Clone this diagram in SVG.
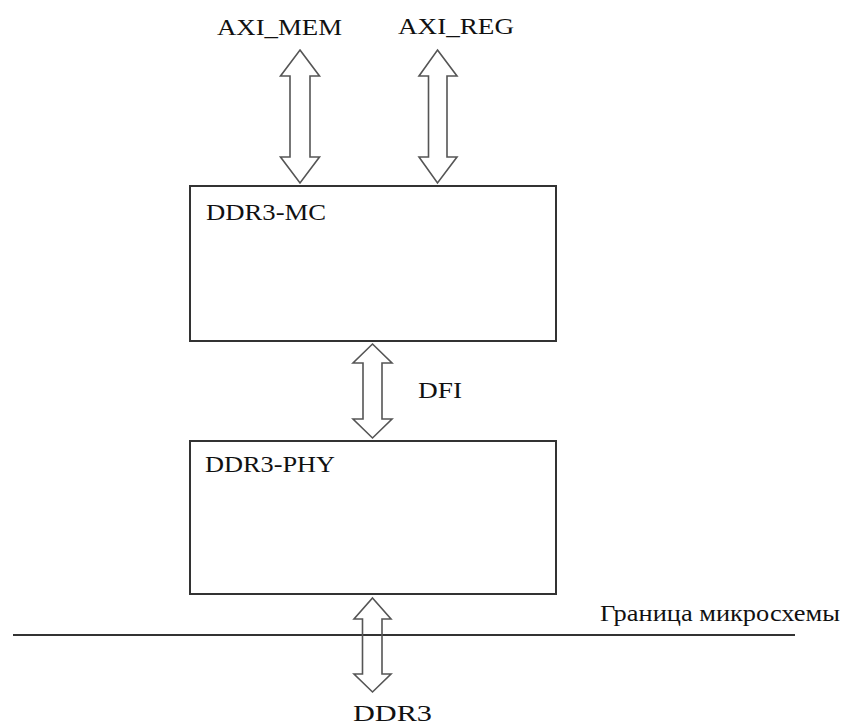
<svg xmlns="http://www.w3.org/2000/svg" width="844" height="727" viewBox="0 0 844 727">
<style>
.box{fill:#fff;stroke:#333;stroke-width:2}
.arr{fill:#fff;stroke:#555;stroke-width:1.6;stroke-linejoin:miter}
.bound{stroke:#333;stroke-width:2;fill:none}
.t{font-family:'Liberation Serif','Times New Roman','DejaVu Serif',serif;font-size:24px;fill:#111}
</style>
<rect width="844" height="727" fill="#fff"/>
<g id="mc">
<rect class="box" x="190" y="186" width="366" height="155"/>
<text class="t" x="206" y="220" textLength="120" lengthAdjust="spacingAndGlyphs">DDR3-MC</text>
</g>
<g id="phy">
<rect class="box" x="190" y="441" width="366" height="153"/>
<text class="t" x="205" y="472" textLength="130" lengthAdjust="spacingAndGlyphs">DDR3-PHY</text>
</g>
<g id="axi_mem">
<text class="t" x="217" y="35" textLength="125" lengthAdjust="spacingAndGlyphs">AXI_MEM</text>
</g>
<g id="axi_reg">
<text class="t" x="398" y="34" textLength="116" lengthAdjust="spacingAndGlyphs">AXI_REG</text>
</g>
<g id="ddr3">
<text class="t" x="353" y="721" textLength="79" lengthAdjust="spacingAndGlyphs">DDR3</text>
</g>
<g id="boundary">
<line class="bound" x1="13" y1="635" x2="795" y2="635"/>
<text class="t" x="600" y="621" textLength="240" lengthAdjust="spacingAndGlyphs">Граница микросхемы</text>
</g>
<g id="connectors">
<polygon class="arr" points="300,50 319.5,76 310,76 310,157 319.5,157 300,183 280.5,157 290,157 290,76 280.5,76"/>
<polygon class="arr" points="437.5,50 457,76 447,76 447,157 457,157 437.5,183 419,157 428.5,157 428.5,76 419,76"/>
<polygon class="arr" points="372.5,344 392,363 382,363 382,419 392,419 372.5,438 353,419 363,419 363,363 353,363"/>
<text class="t" x="418" y="398" textLength="44" lengthAdjust="spacingAndGlyphs">DFI</text>
<polygon class="arr" style="fill:none" points="372.5,598 391,619 382,619 382,674 391,674 372.5,692 354,674 362.5,674 362.5,619 354,619"/>
</g>
</svg>
